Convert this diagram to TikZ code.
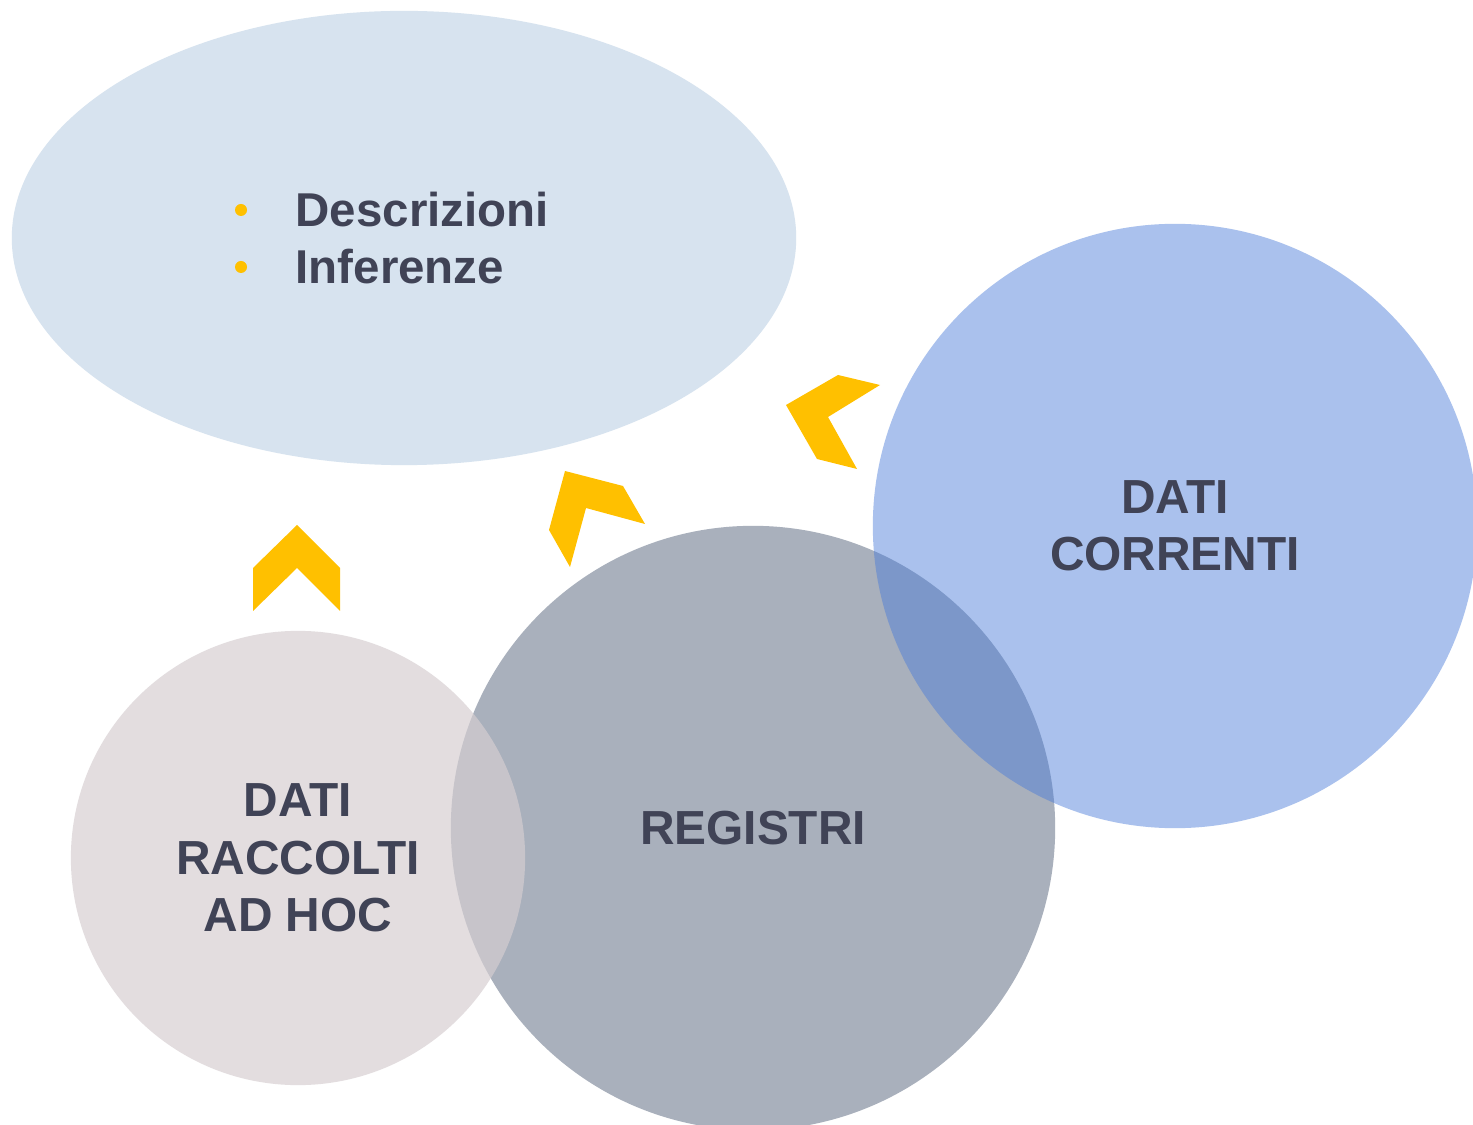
\documentclass[tikz,border=0pt]{standalone}
\usepackage{fontspec}
\setmainfont{Liberation Sans}
\usepackage{xcolor}
\usetikzlibrary{shapes.geometric}
\definecolor{esitiblue}{RGB}{215,227,239}
\definecolor{registrigrey}{RGB}{169,176,188}
\definecolor{raccoltipink}{RGB}{214,206,209}
\definecolor{correntiblue}{RGB}{73,123,217}
\definecolor{chevyellow}{RGB}{255,192,0}
\definecolor{textdark}{RGB}{64,67,86}

\begin{document}
\begin{tikzpicture}[x=0.01cm,y=-0.01cm]
\tikzstyle{bubble} = [circle,inner sep=0pt,text=textdark,text opacity=1,
            font=\bfseries\fontsize{13.6}{16.3}\selectfont,align=center];
\tikzstyle{listtext} = [anchor=base west,inner sep=0pt,text=textdark,
            font=\bfseries\fontsize{13.5}{16.3}\selectfont];
\tikzstyle{bullet} = [circle,fill=chevyellow,minimum size=0.12cm,inner sep=0pt];
\tikzstyle{chev} = [fill=chevyellow];

    \fill[white] (0,0) rectangle (1473,1125);
    \useasboundingbox (0,0) rectangle (1473,1125);

    % top ellipse with the list
    \node (esiti) at (404,238) [ellipse,minimum width=7.84cm,minimum height=4.54cm,
        inner sep=0pt,fill=esitiblue] {};
    \node (descr) at (295,227) [listtext] {Descrizioni};
    \node (infer) at (295,284) [listtext] {Inferenze};
    \node (dot1) at (241,210) [bullet] {};
    \node (dot2) at (241,267) [bullet] {};

    % the three sources
    \node (registri) at (753,828) [bubble,minimum size=6.04cm,fill=registrigrey] {REGISTRI};
    \node (raccolti) at (298,858) [bubble,minimum size=4.54cm,fill=raccoltipink,
        fill opacity=0.68] {DATI\\RACCOLTI\\AD HOC};
    \node (correnti) at (1175,526) [bubble,minimum size=6.04cm,fill=correntiblue,
        fill opacity=0.465] {DATI\\CORRENTI};

    % chevrons
    \fill[chev] (297,525) -- (340,568) -- (340,611) -- (297,568) -- (253,611) -- (253,568) -- cycle;
    \fill[chev] (565,471) -- (623,486) -- (645,524) -- (586,508) -- (570,567) -- (549,530) -- cycle;
    \fill[chev] (786,405) -- (838,375) -- (880,385) -- (828,417) -- (857,469) -- (817,459) -- cycle;

\end{tikzpicture}
\end{document}
